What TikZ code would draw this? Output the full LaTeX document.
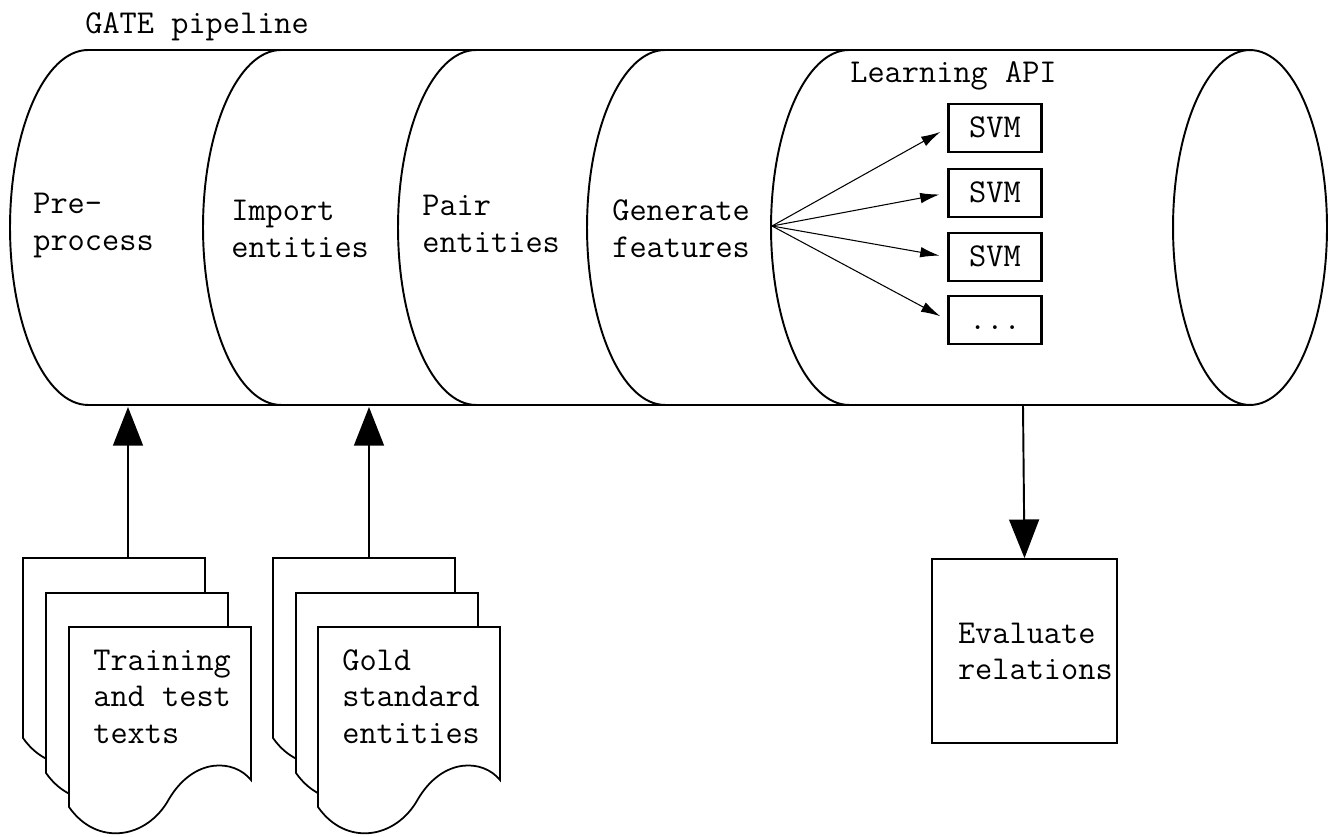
\documentclass[tikz,border=0pt]{standalone}
\usetikzlibrary{arrows.meta}
\begin{document}
\begin{tikzpicture}[x=0.02cm,y=-0.02cm,
  lbl/.style={font=\fontsize{19}{20.5}\selectfont\ttfamily, anchor=base west, align=left, inner sep=0pt},
  pipe/.style={line width=1.1pt},
  big/.style={line width=1.1pt, -{Triangle[width=17pt,length=22pt]}},
  fanarrow/.style={line width=0.6pt, -{Latex[length=11pt,width=6pt]}, shorten >=0.16cm},
  svmbox/.style={draw, line width=1.3pt, minimum width=1.86cm, minimum height=0.96cm, inner sep=0pt,
    text height=11pt, text depth=0pt, font=\fontsize{19}{20.5}\selectfont\ttfamily},
  evalbox/.style={draw, line width=1pt, minimum width=3.7cm, minimum height=3.68cm, inner xsep=0.52cm,
    text width=2.66cm, align=left, font=\fontsize{19}{20.5}\selectfont\ttfamily},
  docline/.style={draw, fill=white, line width=1pt},
  docpage/.pic={\path[docline] (0,0) -- (182,0) -- (182,153)
      .. controls (165,132) and (125,130) .. (100,172)
      .. controls (78,212) and (28,220) .. (0,180) -- cycle;}
]
\useasboundingbox (0,0) rectangle (1328,836);

% cylinder
\draw[pipe] (88,50) -- (1250,50);
\draw[pipe] (88,405) -- (1250,405);
\foreach \cx in {88,281,476,665,849}
  \draw[pipe] (\cx,50) arc[start angle=90,end angle=270,x radius=1.56cm,y radius=3.55cm];
\draw[pipe] (1250,227.5) ellipse[x radius=1.54cm,y radius=3.55cm];

% labels (anchor = baseline of the last line)
\node[lbl] (gate) at (85,33) {GATE pipeline};
\node[lbl] (pre) at (33,250) {Pre-\\process};
\node[lbl] (imp) at (231,257) {Import\\entities};
\node[lbl] (pair) at (422,252) {Pair\\entities};
\node[lbl] (gen) at (612,257) {Generate\\features};
\node[lbl] (api) at (850,82) {Learning API};

% SVM boxes
\node[svmbox] (svm1) at (995,128) {SVM};
\node[svmbox] (svm2) at (995,193) {SVM};
\node[svmbox] (svm3) at (995,257) {SVM};
\node[svmbox] (svm4) at (995,320) {...};
\coordinate (fan) at (772,226);
\foreach \i in {1,...,4}
  \draw[fanarrow] (fan) -- (svm\i.west);

% documents
\pic at (23,558) {docpage};
\pic at (46,593) {docpage};
\pic at (69,627) {docpage};
\pic at (273,558) {docpage};
\pic at (296,593) {docpage};
\pic at (318,627) {docpage};
\node[lbl] (texts) at (93,743) {Training\\and test\\texts};
\node[lbl] (gold) at (342,743) {Gold\\standard\\entities};

% arrows
\coordinate (in1) at (128,558);
\coordinate (cb1) at (128,407);
\coordinate (in2) at (369,558);
\coordinate (cb2) at (369,407);
\coordinate (cb3) at (1023,406);
\draw[big] (in1) -- (cb1);
\draw[big] (in2) -- (cb2);

\node[evalbox] (eval) at (1024.5,651) {Evaluate\\relations};
\draw[big] (cb3) -- (eval.north);
\end{tikzpicture}
\end{document}
